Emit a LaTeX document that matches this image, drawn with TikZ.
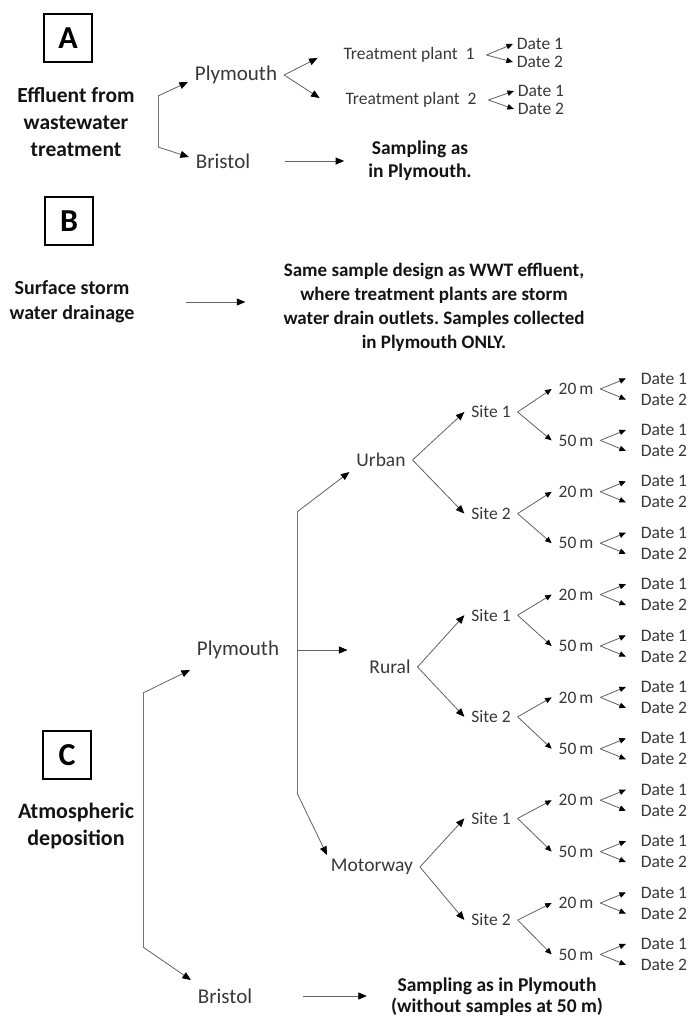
\documentclass[tikz,border=0pt]{standalone}
\usepackage{fontspec}
\setmainfont{Carlito}
\usetikzlibrary{arrows.meta}
\frenchspacing

\tikzset{
  lbl/.style={font=\fontsize{17.5}{20}\selectfont, text=black!78, inner sep=1pt, outer xsep=6pt},
  biglbl/.style={lbl, font=\fontsize{21}{24}\selectfont},
  catlbl/.style={lbl, font=\fontsize{19.5}{22}\selectfont},
  datelbl/.style={lbl, outer xsep=14pt},
  head/.style={font=\bfseries\fontsize{20}{#1}\selectfont, text=black!92, align=center, inner sep=0pt},
  head/.default=25,
  boxlbl/.style={draw, line width=1.3pt, minimum size=48pt, inner sep=0pt, font=\bfseries\fontsize{32}{32}\selectfont},
  arr/.style={draw=black!62, line width=0.8pt, -{Triangle[length=8.5pt,width=7pt,color=black]}},
  arrs/.style={arr, -{Triangle[length=6.5pt,width=5.5pt,color=black]}},
  brk/.style={draw=black!55, line width=0.9pt}
}

\begin{document}
\begin{tikzpicture}[x=1pt,y=1pt]
  \useasboundingbox (0,0) rectangle (691,-1018);

  % A
  \node[boxlbl] (boxA) at (68,-38) {A};
  \node[head=27, font=\bfseries\fontsize{21.5}{27}\selectfont] (effl) at (76,-122) {Effluent from\\wastewater\\treatment};
  \coordinate (aTop) at (158,-96);
  \coordinate (aBot) at (158,-147);
  \draw[brk] (aTop) -- (aBot);
  \node[biglbl] (plyA) at (236,-75) {Plymouth};
  \node[biglbl] (briA) at (223,-161) {Bristol};
  \draw[arr] (aTop) -- ([yshift=-7pt]plyA.west);
  \draw[arr] (aBot) -- ([yshift=4pt]briA.west);

  \node[lbl] (tp1) at (409,-55) {Treatment plant\ \ 1};
  \node[lbl] (tp2) at (411,-100) {Treatment plant\ \ 2};
  \draw[arr] (plyA.east) -- ([xshift=-19pt,yshift=-3pt]tp1.west);
  \draw[arr] (plyA.east) -- ([xshift=-19pt,yshift=2pt]tp2.west);

  \node[lbl, outer xsep=3pt] (dA1) at (540,-44) {Date 1};
  \node[lbl, outer xsep=3pt] (dA2) at (540,-62) {Date 2};
  \node[lbl, outer xsep=3pt] (dA3) at (541,-91) {Date 1};
  \node[lbl, outer xsep=3pt] (dA4) at (541,-109) {Date 2};
  \draw[arrs] ([xshift=5pt]tp1.east) -- (dA1.west);
  \draw[arrs] ([xshift=5pt]tp1.east) -- (dA2.west);
  \draw[arrs] ([xshift=5pt]tp2.east) -- (dA3.west);
  \draw[arrs] ([xshift=5pt]tp2.east) -- (dA4.west);

  \node[head=23, font=\bfseries\fontsize{19.5}{23}\selectfont] (sampA) at (420,-161) {Sampling as\\in Plymouth.};
  \draw[arr] ([xshift=28pt]briA.east) -- ([xshift=-24pt]sampA.west);

  % B
  \node[boxlbl] (boxB) at (69,-221) {B};
  \node[head] (surf) at (72,-302) {Surface storm\\water drainage};
  \node[head=24, font=\bfseries\fontsize{19}{24}\selectfont] (same) at (434,-307) {Same sample design as WWT effluent,\\where treatment plants are storm\\water drain outlets. Samples collected\\in Plymouth ONLY.};
  \draw[arr] ([xshift=51pt]surf.east) -- ([xshift=-38pt,yshift=5pt]same.west);

  % C
  \node[boxlbl] (boxC) at (67,-755) {C};
  \node[head=28, font=\bfseries\fontsize{22}{28}\selectfont] (atm) at (76,-826) {Atmospheric\\deposition};
  \coordinate (cTop) at (143,-693);
  \coordinate (cBot) at (143,-947);
  \draw[brk] (cTop) -- (cBot);
  \node[biglbl] (plyC) at (238,-650) {Plymouth};
  \node[biglbl] (briC) at (225,-996) {Bristol};
  \draw[arr] (cTop) -- ([yshift=-20pt]plyC.west);
  \draw[arr] (cBot) -- ([yshift=16pt]briC.west);

  \coordinate (pTop) at (297,-512);
  \coordinate (pMid) at (297,-650);
  \coordinate (pBot) at (297,-793);
  \draw[brk] (pTop) -- (pBot);
  \node[catlbl] (c0) at (381,-460) {Urban};
  \node[catlbl] (c1) at (390,-667) {Rural};
  \node[catlbl] (c2) at (372,-867) {Motorway};
  \draw[arr] (pTop) -- ([yshift=-12pt]c0.west);
  \draw[arr] (pMid) -- ([xshift=-15pt,yshift=17pt]c1.west);
  \draw[arr] (pBot) -- ([xshift=3pt,yshift=12pt]c2.west);

  \foreach \n in {0,...,5}{
    \pgfmathtruncatemacro\sno{mod(\n,2)+1}
    \pgfmathtruncatemacro\cno{int(\n/2)}
    \node[lbl] (s\n) at (491,{-412-101.6*\n}) {Site \sno};
    \draw[arr] (c\cno.east) -- (s\n.west);
    \foreach \d/\dl in {0/20,1/50}{
      \pgfmathtruncatemacro\k{2*\n+\d}
      \node[lbl] (d\k) at (576,{-389-51.4*\k}) {\dl\,m};
      \draw[arrs] (s\n.east) -- (d\k.west);
      \node[datelbl] (d\k-1) at (664,{-389-51.4*\k+10.5}) {Date 1};
      \node[datelbl] (d\k-2) at (664,{-389-51.4*\k-10.5}) {Date 2};
      \draw[arrs] (d\k.east) -- (d\k-1.west);
      \draw[arrs] (d\k.east) -- (d\k-2.west);
    }
  }

  \node[head=21.5, font=\bfseries\fontsize{19.5}{21.5}\selectfont] (sampC) at (497,-996.5) {Sampling as in Plymouth\\(without samples at 50 m)};
  \draw[arr] ([xshift=44pt]briC.east) -- ([xshift=-24pt,yshift=0.5pt]sampC.west);
\end{tikzpicture}
\end{document}
